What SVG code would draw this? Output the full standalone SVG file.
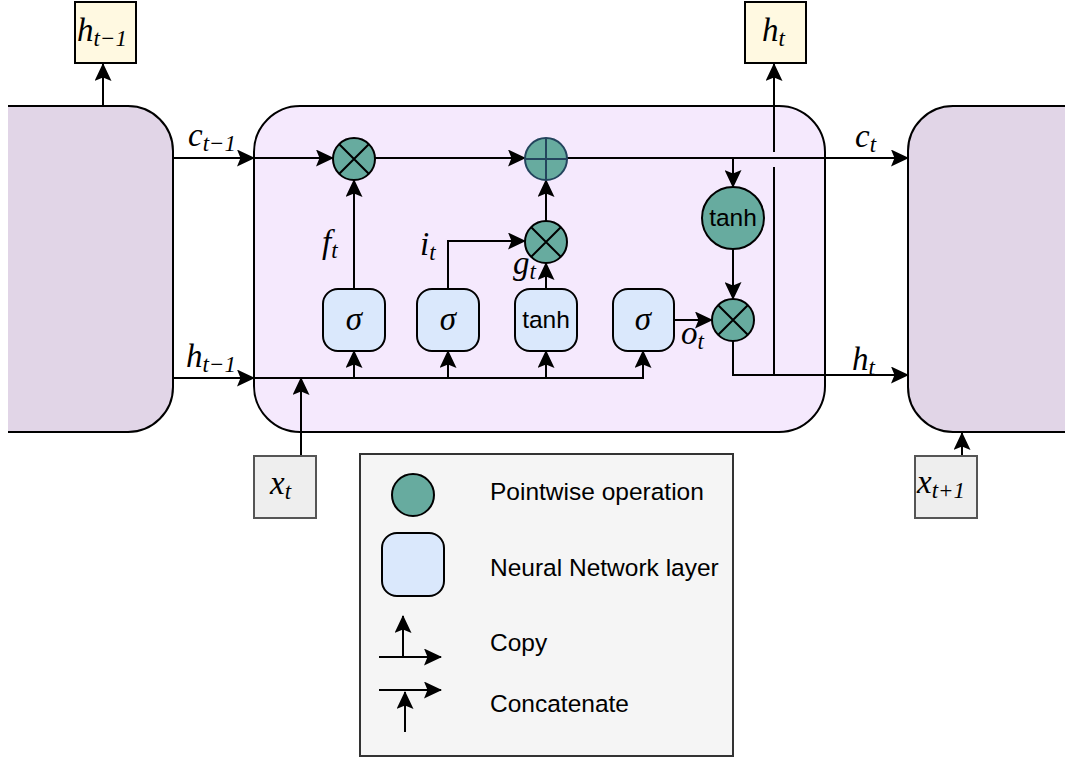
<svg xmlns="http://www.w3.org/2000/svg" width="1065" height="758" viewBox="0 0 1065 758">
<style>
.ln{fill:none;stroke:#000;stroke-width:2}
.arr{marker-end:url(#ah)}
.m{font-family:"Liberation Serif","DejaVu Serif",serif;font-style:italic;font-size:33px;fill:#000}
.s{font-size:23px}
.sans{font-family:"Liberation Sans",Arial,sans-serif;font-size:24.5px;fill:#000}
.op{fill:#67ab9f;stroke:#000;stroke-width:2}
.nn{fill:#dae8fc;stroke:#000;stroke-width:2}
</style>
<defs>
<marker id="ah" markerUnits="userSpaceOnUse" markerWidth="18" markerHeight="17" viewBox="0 0 18 17" refX="17" refY="8.5" orient="auto">
<path d="M0,0 L18,8.5 L0,17 L3.5,8.5 Z" fill="#000"/>
</marker>
</defs>

<g id="prev-cell">
<path d="M8,106 H128 A45,45 0 0 1 173,151 V387 A45,45 0 0 1 128,432 H8" fill="#e1d5e7" stroke="#000" stroke-width="2"/>
</g>
<g id="next-cell">
<path d="M1066,106 H953 A45,45 0 0 0 908,151 V387 A45,45 0 0 0 953,432 H1066" fill="#e1d5e7" stroke="#000" stroke-width="2"/>
</g>
<g id="cell">
<rect x="254" y="106" width="571" height="326" rx="46" ry="46" fill="#f5e9fd" stroke="#000" stroke-width="2"/>
</g>

<g id="connectors">
<line class="ln arr" x1="103" y1="106" x2="103" y2="64"/>
<line class="ln arr" x1="173" y1="158" x2="254" y2="158"/>
<line class="ln arr" x1="173" y1="378" x2="254" y2="378"/>
<line class="ln arr" x1="962" y1="456" x2="962" y2="433"/>
<line class="ln arr" x1="254" y1="158" x2="333" y2="158"/>
<line class="ln arr" x1="375" y1="158" x2="525" y2="158"/>
<line class="ln arr" x1="567" y1="158" x2="908" y2="158"/>
<path class="ln arr" d="M254,378 H643 V351"/>
<line class="ln arr" x1="354" y1="378" x2="354" y2="351"/>
<line class="ln arr" x1="448" y1="378" x2="448" y2="351"/>
<line class="ln arr" x1="546" y1="378" x2="546" y2="351"/>
<line class="ln arr" x1="301" y1="456" x2="301" y2="378"/>
<line class="ln arr" x1="354" y1="289" x2="354" y2="180"/>
<path class="ln arr" d="M448,289 V241 H525"/>
<line class="ln arr" x1="546" y1="289" x2="546" y2="263"/>
<line class="ln arr" x1="546" y1="222" x2="546" y2="180"/>
<line class="ln arr" x1="674" y1="320" x2="712" y2="320"/>
<line class="ln arr" x1="733" y1="158" x2="733" y2="187"/>
<line class="ln arr" x1="733" y1="249" x2="733" y2="299"/>
<path class="ln arr" d="M733,341 V375 H908"/>
<line class="ln" x1="774" y1="375" x2="774" y2="167"/>
<line class="ln arr" x1="774" y1="152" x2="774" y2="64"/>
</g>

<g id="label-c-prev"><text class="m" x="188" y="146">c<tspan class="s" dy="5">t−1</tspan></text></g>
<g id="label-h-prev"><text class="m" x="186" y="367">h<tspan class="s" dy="5">t−1</tspan></text></g>
<g id="label-c-t"><text class="m" x="855" y="147">c<tspan class="s" dy="5">t</tspan></text></g>
<g id="label-h-t"><text class="m" x="852" y="370">h<tspan class="s" dy="5">t</tspan></text></g>
<g id="label-f"><text class="m" x="322" y="253">f<tspan class="s" dy="5">t</tspan></text></g>
<g id="label-i"><text class="m" x="420" y="255">i<tspan class="s" dy="5">t</tspan></text></g>
<g id="label-g"><text class="m" x="513" y="274">g<tspan class="s" dy="5">t</tspan></text></g>
<g id="label-o"><text class="m" x="681" y="344">o<tspan class="s" dy="5">t</tspan></text></g>

<g id="h-prev-out">
<rect x="75" y="2" width="61" height="61" fill="#fff9e1" stroke="#000" stroke-width="2"/>
<text class="m" x="77" y="41">h<tspan class="s" dy="5">t−1</tspan></text>
</g>
<g id="h-t-out">
<rect x="745" y="2" width="61" height="61" fill="#fff9e1" stroke="#000" stroke-width="2"/>
<text class="m" x="762" y="41">h<tspan class="s" dy="5">t</tspan></text>
</g>
<g id="x-t">
<rect x="254" y="456" width="62" height="62" fill="#eeeeee" stroke="#555" stroke-width="2"/>
<text class="m" x="270" y="494">x<tspan class="s" dy="5">t</tspan></text>
</g>
<g id="x-t1">
<rect x="915" y="456" width="62" height="62" fill="#eeeeee" stroke="#555" stroke-width="2"/>
<text class="m" x="917" y="493">x<tspan class="s" dy="5">t+1</tspan></text>
</g>

<g id="mul-f">
<circle class="op" cx="354" cy="159" r="21"/>
<path class="ln" d="M339,144 L369,174 M369,144 L339,174"/>
</g>
<g id="add-c">
<circle cx="546" cy="159" r="21" fill="#67ab9f" stroke="#23445d" stroke-width="2"/>
<path d="M525,159 H567 M546,138 V180" stroke="#23445d" stroke-width="2" fill="none"/>
</g>
<g id="mul-i">
<circle class="op" cx="546" cy="242" r="21"/>
<path class="ln" d="M531,227 L561,257 M561,227 L531,257"/>
</g>
<g id="mul-o">
<circle class="op" cx="733" cy="320" r="21"/>
<path class="ln" d="M718,305 L748,335 M748,305 L718,335"/>
</g>
<g id="tanh-c">
<circle class="op" cx="733" cy="218" r="31"/>
<text class="sans" x="733" y="226" text-anchor="middle">tanh</text>
</g>

<g id="sig-f">
<rect class="nn" x="323" y="289" width="62" height="62" rx="15"/>
<text class="m" x="354" y="330" text-anchor="middle">σ</text>
</g>
<g id="sig-i">
<rect class="nn" x="417" y="289" width="62" height="62" rx="15"/>
<text class="m" x="448" y="330" text-anchor="middle">σ</text>
</g>
<g id="tanh-g">
<rect class="nn" x="515" y="289" width="62" height="62" rx="15"/>
<text class="sans" x="546" y="328" text-anchor="middle">tanh</text>
</g>
<g id="sig-o">
<rect class="nn" x="613" y="289" width="61" height="62" rx="15"/>
<text class="m" x="643" y="330" text-anchor="middle">σ</text>
</g>

<g id="legend">
<rect x="360" y="454" width="373" height="302" fill="#f5f5f5" stroke="#333" stroke-width="2"/>
<circle class="op" cx="413" cy="495" r="21"/>
<rect class="nn" x="382" y="533" width="62" height="63" rx="15"/>
<line class="ln arr" x1="379" y1="657" x2="441" y2="657"/>
<line class="ln arr" x1="403" y1="657" x2="403" y2="616"/>
<line class="ln arr" x1="379" y1="690" x2="441" y2="690"/>
<line class="ln arr" x1="405" y1="732" x2="405" y2="692"/>
<text class="sans" x="490" y="500">Pointwise operation</text>
<text class="sans" x="490" y="576">Neural Network layer</text>
<text class="sans" x="490" y="651">Copy</text>
<text class="sans" x="490" y="712">Concatenate</text>
</g>
</svg>
